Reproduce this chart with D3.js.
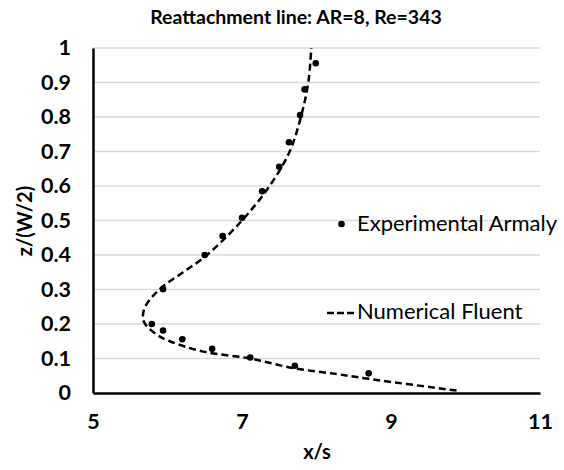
<!DOCTYPE html>
<html><head><meta charset="utf-8">
<script src="https://cdn.jsdelivr.net/npm/d3@7"></script>
<style>body{margin:0;background:#fff}svg{display:block}</style>
</head><body>
<svg id="c" width="564" height="470"></svg>
<script>
const title = "Reattachment line: AR=8, Re=343";
const xTicks = [5, 7, 9, 11];
const yTicks = [0, 0.1, 0.2, 0.3, 0.4, 0.5, 0.6, 0.7, 0.8, 0.9, 1];
// Experimental Armaly
const expX = [7.99, 7.84, 7.78, 7.63, 7.50, 7.27, 7.00, 6.74, 6.50, 5.94, 5.79, 5.94, 6.20, 6.60, 7.11, 7.71, 8.70];
const expY = [0.956, 0.880, 0.806, 0.727, 0.656, 0.585, 0.508, 0.455, 0.400, 0.301, 0.200, 0.181, 0.156, 0.128, 0.103, 0.079, 0.057];
// Numerical Fluent
const numX = [9.88, 8.70, 8.27, 7.69, 7.11, 6.48, 6.03, 5.85, 5.70, 5.67, 5.70, 5.89, 6.21, 6.53, 7.00, 7.37, 7.64, 7.79, 7.89, 7.93];
const numY = [0.007, 0.041, 0.055, 0.072, 0.100, 0.120, 0.150, 0.170, 0.200, 0.220, 0.250, 0.300, 0.350, 0.400, 0.500, 0.600, 0.700, 0.800, 0.900, 1.000];

const FONT = "Lato, 'Open Sans', sans-serif";
const svg = d3.select("#c");
const m = {l: 93, r: 540, t: 48, b: 393};
const x = d3.scaleLinear().domain([5, 11]).range([m.l, m.r]);
const y = d3.scaleLinear().domain([0, 1]).range([m.b, m.t]);

// gridlines
svg.append("g").selectAll("line").data(yTicks.filter(d => d > 0)).join("line")
  .attr("x1", m.l).attr("x2", m.r).attr("y1", d => y(d)).attr("y2", d => y(d))
  .attr("stroke", "#d9d9d9").attr("stroke-width", 1.3);

// axes
const ya = svg.append("g").attr("transform", `translate(${m.l},0)`)
  .call(d3.axisLeft(y).tickValues(yTicks).tickSize(0).tickPadding(22).tickFormat(d => String(+d.toFixed(1))));
ya.select(".domain").attr("stroke", "#000").attr("stroke-width", 2.5);
ya.selectAll("text").attr("font-family", FONT).attr("font-weight", "bold").attr("font-size", 21.5).attr("fill", "#000");

const xa = svg.append("g").attr("transform", `translate(0,${m.b})`)
  .call(d3.axisBottom(x).tickValues(xTicks).tickSize(0).tickPadding(21).tickFormat(d3.format("d")));
xa.select(".domain").attr("stroke", "#000").attr("stroke-width", 2.5);
xa.selectAll("text").attr("font-family", FONT).attr("font-weight", "bold").attr("font-size", 21.5).attr("fill", "#000");

// curve
const num = numX.map((v, i) => [v, numY[i]]);
svg.append("path").datum(num)
  .attr("d", d3.line().x(d => x(d[0])).y(d => y(d[1])).curve(d3.curveCatmullRom.alpha(0.5)))
  .attr("fill", "none").attr("stroke", "#000").attr("stroke-width", 2.5).attr("stroke-dasharray", "7,4");

// points
const exp = expX.map((v, i) => [v, expY[i]]);
svg.append("g").selectAll("circle").data(exp).join("circle")
  .attr("cx", d => x(d[0])).attr("cy", d => y(d[1])).attr("r", 3.3).attr("fill", "#000");

// legend
svg.append("circle").attr("cx", 341.5).attr("cy", 224).attr("r", 3.3).attr("fill", "#000");
svg.append("text").attr("x", 357).attr("y", 231).text("Experimental Armaly")
  .attr("font-family", FONT).attr("font-size", 22).attr("fill", "#000");
svg.append("line").attr("x1", 327).attr("x2", 355).attr("y1", 313).attr("y2", 313)
  .attr("stroke", "#000").attr("stroke-width", 2.5).attr("stroke-dasharray", "7,3");
svg.append("text").attr("x", 357).attr("y", 319).text("Numerical Fluent")
  .attr("font-family", FONT).attr("font-size", 22).attr("fill", "#000");

// titles
svg.append("text").attr("x", 296).attr("y", 24).attr("text-anchor", "middle").text(title)
  .attr("font-family", FONT).attr("font-weight", "bold").attr("font-size", 19.5).attr("fill", "#000");
svg.append("text").attr("x", 317).attr("y", 459).attr("text-anchor", "middle").text("x/s")
  .attr("font-family", FONT).attr("font-weight", "bold").attr("font-size", 20).attr("fill", "#000");
svg.append("text").attr("transform", "translate(32,221) rotate(-90)").attr("text-anchor", "middle").text("z/(W/2)")
  .attr("font-family", FONT).attr("font-weight", "bold").attr("font-size", 20).attr("fill", "#000");
</script>
</body></html>
